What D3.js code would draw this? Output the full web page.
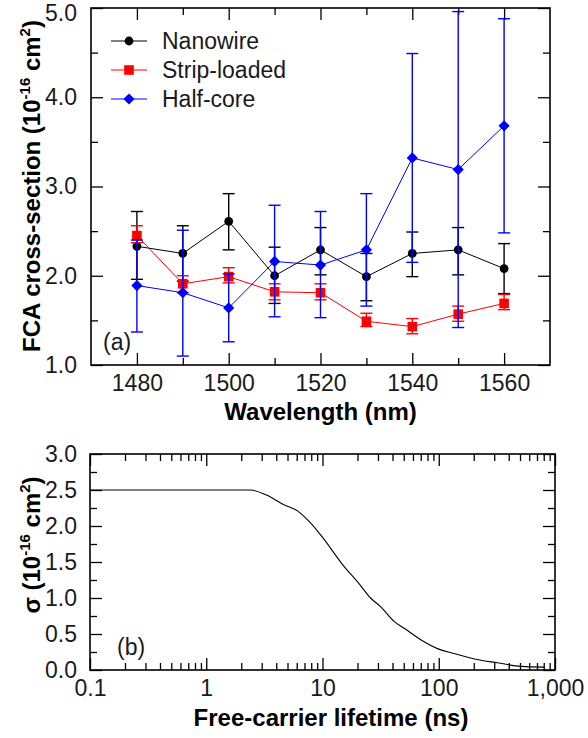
<!DOCTYPE html>
<html>
<head>
<meta charset="utf-8">
<script src="https://cdn.jsdelivr.net/npm/d3@7.9.0/dist/d3.min.js"></script>
<style>
  html, body { margin: 0; padding: 0; background: #fff; }
  svg { display: block; font-family: "Liberation Sans", Arial, sans-serif; }
  .tick text { fill: #1a1a1a; font-size: 23px; }
</style>
</head>
<body>
<svg id="chart" width="588" height="738"></svg>
<script>
/* ---------- Data: panel (a) ---------- */
const wavelengths = [1480, 1490, 1500, 1510, 1520, 1530, 1540, 1550, 1560];

const nanowire   = [2.33, 2.25, 2.61, 2.00, 2.29, 1.99, 2.25, 2.29, 2.08];
const nanowireHi = [2.72, 2.56, 2.92, 2.32, 2.54, 2.25, 2.49, 2.54, 2.36];
const nanowireLo = [1.96, 1.94, 2.29, 1.69, 2.01, 1.72, 1.99, 2.01, 1.80];

const stripLoaded   = [2.45, 1.91, 1.99, 1.82, 1.81, 1.49, 1.43, 1.57, 1.69];
const stripLoadedHi = [2.56, 2.00, 2.09, 1.91, 1.91, 1.58, 1.52, 1.66, 1.79];
const stripLoadedLo = [2.37, 1.81, 1.92, 1.73, 1.73, 1.43, 1.35, 1.49, 1.62];

const halfCore   = [1.89, 1.81, 1.64, 2.16, 2.12, 2.29, 3.32, 3.19, 3.68];
const halfCoreHi = [2.40, 2.51, 2.02, 2.79, 2.72, 2.92, 4.49, 4.96, 4.88];
const halfCoreLo = [1.37, 1.10, 1.26, 1.54, 1.53, 1.66, 2.15, 1.42, 2.48];

const seriesNames = ["Nanowire", "Strip-loaded", "Half-core"];

/* ---------- Data: panel (b) ---------- */
const lifetimes = [0.1, 1, 2.4, 3.3, 4.6, 6.1, 7.6, 9.6, 15.3, 20.6, 25.9, 31.6, 41, 52, 70, 100, 135, 208, 320, 510, 810];
const sigmaVals = [2.5, 2.5, 2.5, 2.43, 2.3, 2.21, 2.07, 1.88, 1.44, 1.2, 1.0, 0.88, 0.68, 0.565, 0.42, 0.29, 0.23, 0.15, 0.1, 0.05, 0.04];

/* ---------- Tick labels ---------- */
const aYTicks = [1, 2, 3, 4, 5];
const aYMinor = [1.5, 2.5, 3.5, 4.5];
const aXTicks = [1480, 1500, 1520, 1540, 1560];
const aXMinor = [1490, 1510, 1530, 1550];
const bYTicks = [0, 0.5, 1, 1.5, 2, 2.5, 3];
const bYMinor = [0.25, 0.75, 1.25, 1.75, 2.25, 2.75];
const bXTicks = [0.1, 1, 10, 100, 1000];
const bXLabels = ["0.1", "1", "10", "100", "1,000"];

const svg = d3.select("#chart");
svg.append("rect").attr("width", 588).attr("height", 738).attr("fill", "#fff");

const MAJ = 12, MIN = 7;

function drawAxis(g, axis) {
  g.call(axis);
  g.select(".domain").remove();
  g.selectAll(".tick line").attr("stroke", "#000").attr("stroke-width", 1.3);
  return g;
}

function frame(x0, x1, y0, y1) {
  svg.append("rect")
    .attr("x", x0).attr("y", y1)
    .attr("width", x1 - x0).attr("height", y0 - y1)
    .attr("fill", "none").attr("stroke", "#000").attr("stroke-width", 1.6);
}

function supLabel(sel, parts) {
  // parts: [text, isSup]
  parts.forEach(([t, sup], i) => {
    const ts = sel.append("tspan").text(t);
    if (sup) ts.attr("font-size", 15).attr("dy", -10);
    else if (i > 0 && parts[i - 1][1]) ts.attr("dy", 10);
  });
}

/* ================= Panel (a) ================= */
const xA = d3.scaleLinear().domain([1470, 1570]).range([91, 550]);
const yA = d3.scaleLinear().domain([1, 5]).range([365, 8]);

// ticks (inward)
const aLeft = drawAxis(svg.append("g").attr("transform", `translate(${xA.range()[0]},0)`),
  d3.axisLeft(yA).tickValues(aYTicks).tickSize(-MAJ).tickPadding(14).tickFormat(d3.format(".1f")));
// keep the top label inside the page
aLeft.selectAll(".tick text").filter(d => d === 5).attr("y", 5);
drawAxis(svg.append("g").attr("transform", `translate(${xA.range()[0]},0)`),
  d3.axisLeft(yA).tickValues(aYMinor).tickSize(-MIN).tickFormat(""));
drawAxis(svg.append("g").attr("transform", `translate(${xA.range()[1]},0)`),
  d3.axisRight(yA).tickValues(aYTicks).tickSize(-MAJ).tickFormat(""));
drawAxis(svg.append("g").attr("transform", `translate(${xA.range()[1]},0)`),
  d3.axisRight(yA).tickValues(aYMinor).tickSize(-MIN).tickFormat(""));
drawAxis(svg.append("g").attr("transform", `translate(0,${yA.range()[0]})`),
  d3.axisBottom(xA).tickValues(aXTicks).tickSize(-MAJ).tickPadding(10).tickFormat(d3.format("d")));
drawAxis(svg.append("g").attr("transform", `translate(0,${yA.range()[0]})`),
  d3.axisBottom(xA).tickValues(aXMinor).tickSize(-MIN).tickFormat(""));
drawAxis(svg.append("g").attr("transform", `translate(0,${yA.range()[1]})`),
  d3.axisTop(xA).tickValues(aXTicks).tickSize(-MAJ).tickFormat(""));
drawAxis(svg.append("g").attr("transform", `translate(0,${yA.range()[1]})`),
  d3.axisTop(xA).tickValues(aXMinor).tickSize(-MIN).tickFormat(""));

frame(91, 550, 365, 8);

const seriesA = [
  { name: seriesNames[0], v: nanowire, hi: nanowireHi, lo: nanowireLo, color: "#000000", shape: "circle" },
  { name: seriesNames[1], v: stripLoaded, hi: stripLoadedHi, lo: stripLoadedLo, color: "#ff0000", shape: "square" },
  { name: seriesNames[2], v: halfCore, hi: halfCoreHi, lo: halfCoreLo, color: "#0000ff", shape: "diamond" },
];

function marker(g, shape, color, x, y) {
  if (shape === "circle") {
    g.append("circle").attr("cx", x).attr("cy", y).attr("r", 4.4).attr("fill", color);
  } else if (shape === "square") {
    g.append("rect").attr("x", x - 4.8).attr("y", y - 4.8).attr("width", 9.6).attr("height", 9.6).attr("fill", color);
  } else {
    const r = 5.6;
    g.append("path").attr("d", `M${x},${y - r}L${x + r},${y}L${x},${y + r}L${x - r},${y}Z`).attr("fill", color);
  }
}

const line = d3.line().x(d => xA(d[0])).y(d => yA(d[1]));

seriesA.forEach(s => {
  const g = svg.append("g");
  const pts = wavelengths.map((w, i) => [w, s.v[i]]);
  g.append("path").attr("d", line(pts)).attr("fill", "none")
    .attr("stroke", s.color).attr("stroke-width", 1);
  wavelengths.forEach((w, i) => {
    const x = xA(w);
    g.append("line").attr("x1", x).attr("x2", x).attr("y1", yA(s.lo[i])).attr("y2", yA(s.hi[i]))
      .attr("stroke", s.color).attr("stroke-width", 1.4);
    [s.lo[i], s.hi[i]].forEach(e => {
      g.append("line").attr("x1", x - 6).attr("x2", x + 6).attr("y1", yA(e)).attr("y2", yA(e))
        .attr("stroke", s.color).attr("stroke-width", 1.4);
    });
    marker(g, s.shape, s.color, x, yA(s.v[i]));
  });
});

// legend
seriesA.forEach((s, i) => {
  const y = 41 + i * 29;
  svg.append("line").attr("x1", 111).attr("x2", 147).attr("y1", y).attr("y2", y)
    .attr("stroke", s.color).attr("stroke-width", 1.2);
  marker(svg, s.shape, s.color, 129, y);
  svg.append("text").attr("x", 162).attr("y", y + 8).attr("font-size", 23).attr("fill", "#1a1a1a").text(s.name);
});

svg.append("text").attr("x", 103).attr("y", 350).attr("font-size", 23).attr("fill", "#1a1a1a").text("(a)");

svg.append("text").attr("x", 320.5).attr("y", 420).attr("text-anchor", "middle")
  .attr("font-size", 24).attr("font-weight", "bold").attr("fill", "#000").text("Wavelength (nm)");

svg.append("text").attr("transform", "translate(40,186) rotate(-90)").attr("text-anchor", "middle")
  .attr("font-size", 24).attr("font-weight", "bold").attr("fill", "#000")
  .call(supLabel, [["FCA cross-section (10", false], ["-16", true], [" cm", false], ["2", true], [")", false]]);

/* ================= Panel (b) ================= */
const xB = d3.scaleLog().domain([0.1, 1000]).range([90, 555]);
const yB = d3.scaleLinear().domain([0, 3]).range([670, 454]);

const bXMinor = [];
[0.1, 1, 10, 100].forEach(dec => { for (let k = 2; k <= 9; k++) bXMinor.push(dec * k); });

drawAxis(svg.append("g").attr("transform", `translate(${xB.range()[0]},0)`),
  d3.axisLeft(yB).tickValues(bYTicks).tickSize(-MAJ).tickPadding(13).tickFormat(d3.format(".1f")));
drawAxis(svg.append("g").attr("transform", `translate(${xB.range()[0]},0)`),
  d3.axisLeft(yB).tickValues(bYMinor).tickSize(-MIN).tickFormat(""));
drawAxis(svg.append("g").attr("transform", `translate(${xB.range()[1]},0)`),
  d3.axisRight(yB).tickValues(bYTicks).tickSize(-MAJ).tickFormat(""));
drawAxis(svg.append("g").attr("transform", `translate(${xB.range()[1]},0)`),
  d3.axisRight(yB).tickValues(bYMinor).tickSize(-MIN).tickFormat(""));
drawAxis(svg.append("g").attr("transform", `translate(0,${yB.range()[0]})`),
  d3.axisBottom(xB).tickValues(bXTicks).tickSize(-MAJ).tickPadding(10).tickFormat((d, i) => bXLabels[i]));
drawAxis(svg.append("g").attr("transform", `translate(0,${yB.range()[0]})`),
  d3.axisBottom(xB).tickValues(bXMinor).tickSize(-MIN).tickFormat(""));
drawAxis(svg.append("g").attr("transform", `translate(0,${yB.range()[1]})`),
  d3.axisTop(xB).tickValues(bXTicks).tickSize(-MAJ).tickFormat(""));
drawAxis(svg.append("g").attr("transform", `translate(0,${yB.range()[1]})`),
  d3.axisTop(xB).tickValues(bXMinor).tickSize(-MIN).tickFormat(""));

frame(90, 555, 670, 454);

const lineB = d3.line().x((d, i) => xB(lifetimes[i])).y(d => yB(d)).curve(d3.curveMonotoneX);
svg.append("path").attr("d", lineB(sigmaVals)).attr("fill", "none")
  .attr("stroke", "#000").attr("stroke-width", 1.1);

svg.append("text").attr("x", 117).attr("y", 655).attr("font-size", 23).attr("fill", "#1a1a1a").text("(b)");

svg.append("text").attr("x", 331).attr("y", 726).attr("text-anchor", "middle")
  .attr("font-size", 24).attr("font-weight", "bold").attr("fill", "#000").text("Free-carrier lifetime (ns)");

svg.append("text").attr("transform", "translate(40,545) rotate(-90)").attr("text-anchor", "middle")
  .attr("font-size", 24).attr("font-weight", "bold").attr("fill", "#000")
  .call(supLabel, [["σ (10", false], ["-16", true], [" cm", false], ["2", true], [")", false]]);
</script>
</body>
</html>
